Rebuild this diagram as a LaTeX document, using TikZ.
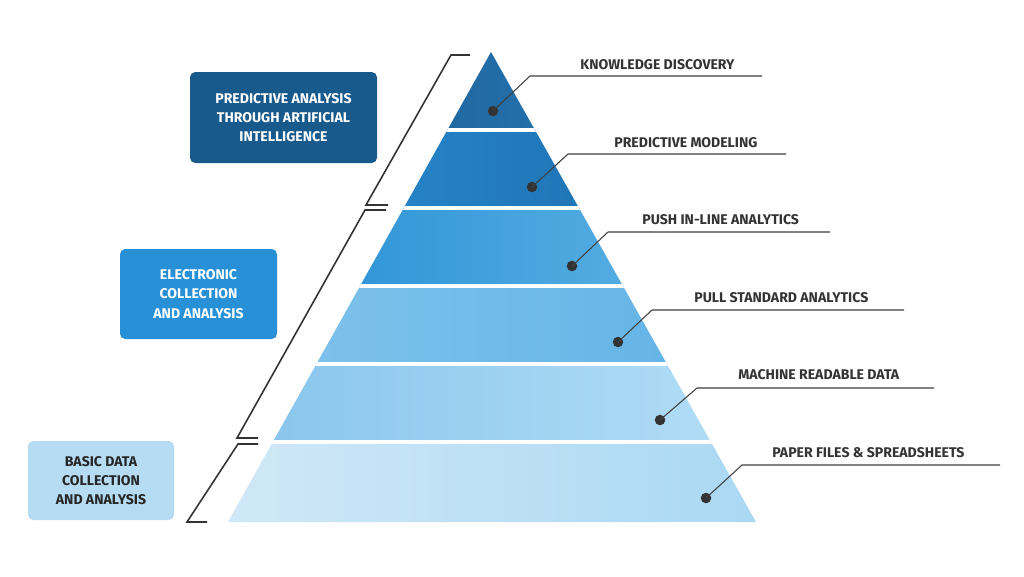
\documentclass[tikz,border=0pt]{standalone}
\usepackage{fontspec}
\setmainfont{Fira Sans}
\begin{document}
\begin{tikzpicture}[x=0.02cm,y=-0.02cm,
  lbl/.style={font=\fontsize{8}{9}\selectfont\bfseries, text=black!80, anchor=south west, inner sep=0pt},
  lead/.style={draw=black!75, line width=0.6pt},
  dot/.style={circle, fill=black!80, inner sep=0pt, minimum size=6pt},
  brk/.style={draw=black!80, line width=0.9pt},
  box/.style={rounded corners=3pt, align=center, font=\fontsize{8}{11}\selectfont\bfseries, inner sep=0pt}]
\useasboundingbox (0,0) rectangle (1024,576);
\fill[white] (0,0) rectangle (1024,576);
\begin{scope}
\clip (491,52) -- (756,522) -- (228,522) -- cycle;
\shade[left color={rgb,255:red,26;green,88;blue,140}, right color={rgb,255:red,42;green,128;blue,192}] (228,52) rectangle (756,130);
\shade[left color={rgb,255:red,42;green,144;blue,212}, right color={rgb,255:red,28;green,104;blue,168}] (228,130) rectangle (756,208);
\shade[left color={rgb,255:red,34;green,140;blue,210}, right color={rgb,255:red,100;green,182;blue,230}] (228,208) rectangle (756,286);
\shade[left color={rgb,255:red,130;green,196;blue,236}, right color={rgb,255:red,96;green,178;blue,230}] (228,286) rectangle (756,364);
\shade[left color={rgb,255:red,134;green,196;blue,236}, right color={rgb,255:red,180;green,222;blue,246}] (228,364) rectangle (756,442);
\shade[left color={rgb,255:red,208;green,232;blue,247}, right color={rgb,255:red,170;green,216;blue,243}] (228,442) rectangle (756,522);
\foreach \y in {130,208,286,364,442} \draw[white, line width=2pt] (200,\y) -- (800,\y);
\end{scope}
% labels
\node[dot] (d1) at (493,111) {};
\node[dot] (d2) at (532,187) {};
\node[dot] (d3) at (572,266) {};
\node[dot] (d4) at (618,342) {};
\node[dot] (d5) at (660,420) {};
\node[dot] (d6) at (706,498) {};
\coordinate (e1) at (530,76);  \coordinate (f1) at (762,76);
\coordinate (e2) at (568,154); \coordinate (f2) at (786,154);
\coordinate (e3) at (608,232); \coordinate (f3) at (830,232);
\coordinate (e4) at (652,310); \coordinate (f4) at (904,310);
\coordinate (e5) at (697,388); \coordinate (f5) at (934,388);
\coordinate (e6) at (742,465); \coordinate (f6) at (1000,465);
\foreach \i in {1,...,6} \draw[lead] (d\i.center) -- (e\i) -- (f\i);
\node[lbl] (t1) at (580,70) {KNOWLEDGE DISCOVERY};
\node[lbl] (t2) at (614,148) {PREDICTIVE MODELING};
\node[lbl] (t3) at (642,225) {PUSH IN-LINE ANALYTICS};
\node[lbl] (t4) at (694,303) {PULL STANDARD ANALYTICS};
\node[lbl] (t5) at (738,380) {MACHINE READABLE DATA};
\node[lbl] (t6) at (772,458) {PAPER FILES \& SPREADSHEETS};
% brackets
\draw[brk] (470,55) -- (451,55) -- (366,205) -- (388,205);
\draw[brk] (386,210) -- (365,210) -- (237,438) -- (258,438);
\draw[brk] (258,444) -- (238,444) -- (187,522) -- (207,522);
% boxes
\node[box, fill={rgb,255:red,25;green,90;blue,140}, text=white, minimum width=187*0.02cm, minimum height=91*0.02cm] (b1) at (283.5,117.5) {PREDICTIVE ANALYSIS\\THROUGH ARTIFICIAL\\INTELLIGENCE};
\node[box, fill={rgb,255:red,40;green,144;blue,214}, text=white, minimum width=157*0.02cm, minimum height=90*0.02cm] (b2) at (198.5,294) {ELECTRONIC\\COLLECTION\\AND ANALYSIS};
\node[box, fill={rgb,255:red,182;green,220;blue,244}, text=black!85, minimum width=146*0.02cm, minimum height=79*0.02cm] (b3) at (101,480.5) {BASIC DATA\\COLLECTION\\AND ANALYSIS};
\end{tikzpicture}
\end{document}
